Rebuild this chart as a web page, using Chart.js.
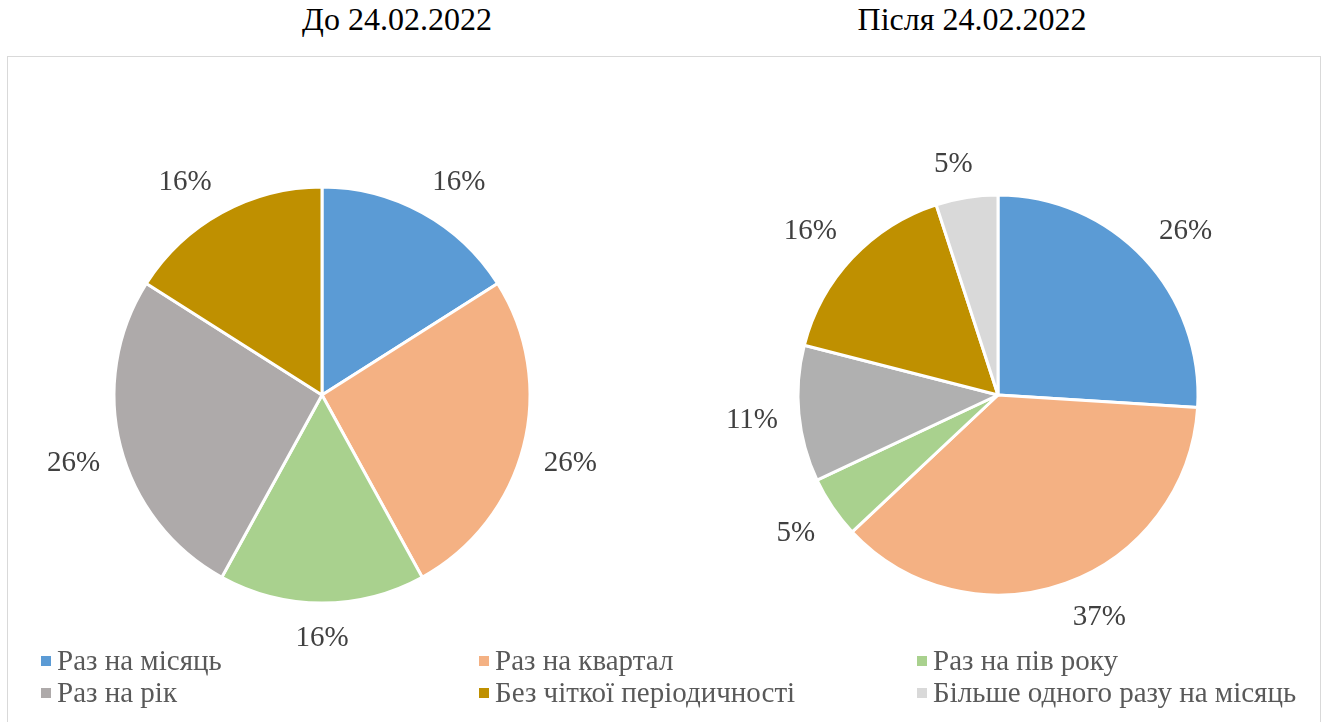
<!DOCTYPE html>
<html>
<head>
    <meta charset="utf-8">
    <title>Періодичність до та після 24.02.2022</title>
    <script src="https://cdn.jsdelivr.net/npm/chart.js"></script>
    <style>
        body {
            margin: 0;
            padding: 0;
            width: 1327px;
            height: 722px;
            overflow: hidden;
            background: #ffffff;
            font-family: 'Liberation Serif', 'Times New Roman', serif;
            position: relative;
        }
        .title {
            position: absolute;
            top: 1px;
            font-family: 'Liberation Serif', serif;
            font-size: 32px;
            color: #000000;
            transform: translateX(-50%);
            white-space: nowrap;
        }
        #frame {
            position: absolute;
            left: 7px;
            top: 56px;
            width: 1312px;
            height: 700px;
            border: 1px solid #d9d9d9;
        }
        canvas {
            position: absolute;
        }
        #legend {
            position: absolute;
            left: 0;
            top: 644px;
            width: 1327px;
            z-index: 5;
        }
        .item {
            position: absolute;
            font-family: 'Liberation Serif', serif;
            font-size: 29px;
            color: #595959;
            white-space: nowrap;
            line-height: 32px;
        }
        .item span.box {
            display: inline-block;
            width: 10px;
            height: 10px;
            margin-right: 6px;
            vertical-align: 4px;
        }
    </style>
</head>
<body>
    <div class="title" style="left:397px">До 24.02.2022</div>
    <div class="title" style="left:972px">Після 24.02.2022</div>
    <div id="frame"></div>
    <canvas id="before" width="644" height="610" style="left:0px;top:90px"></canvas>
    <canvas id="after" width="640" height="610" style="left:678px;top:90px"></canvas>
    <div id="legend"></div>

    <script>
        // категорії та значення (%)
        const categories = ['Раз на місяць', 'Раз на квартал', 'Раз на пів року', 'Раз на рік', 'Без чіткої періодичності', 'Більше одного разу на місяць'];
        const beforeValues = [16, 26, 16, 26, 16, 0];
        const afterValues = [26, 37, 5, 11, 16, 5];

        const beforeColors = ['#5B9BD5', '#F4B183', '#A9D18E', '#AEAAAA', '#BF9000', '#D9D9D9'];
        const afterColors = ['#5B9BD5', '#F4B183', '#A9D18E', '#B0B0B0', '#BF9000', '#D9D9D9'];

        function clamp(v) { return Math.max(-1, Math.min(1, v)); }

        // підписи відсотків зовні сектора (кут підпису біля краю кола)
        const outsideLabels = {
            id: 'outsideLabels',
            afterDatasetsDraw(chart) {
                const ctx = chart.ctx;
                const meta = chart.getDatasetMeta(0);
                const data = chart.data.datasets[0].data;
                ctx.save();
                ctx.font = '29px "Liberation Serif", serif';
                ctx.fillStyle = '#404040';
                ctx.textAlign = 'center';
                ctx.textBaseline = 'middle';
                meta.data.forEach((arc, i) => {
                    if (!data[i]) return;
                    const p = arc.getProps(['x', 'y', 'startAngle', 'endAngle', 'outerRadius'], true);
                    const mid = (p.startAngle + p.endAngle) / 2;
                    const text = data[i] + '%';
                    const w = ctx.measureText(text).width;
                    const h = 26;
                    const cos = Math.cos(mid), sin = Math.sin(mid);
                    const d = p.outerRadius + 21;
                    const x = p.x + cos * d + clamp(cos / 0.3) * w / 2;
                    const y = p.y + sin * d + clamp(sin / 0.3) * h / 2;
                    ctx.fillText(text, x, y + 1);
                });
                ctx.restore();
            }
        };

        function makePie(id, values, colors, radius) {
            return new Chart(document.getElementById(id), {
                type: 'pie',
                data: {
                    labels: categories,
                    datasets: [{
                        data: values,
                        backgroundColor: colors,
                        borderColor: '#ffffff',
                        borderWidth: 3
                    }]
                },
                options: {
                    responsive: false,
                    animation: false,
                    radius: radius,
                    layout: { padding: 0 },
                    plugins: {
                        legend: { display: false },
                        tooltip: { enabled: false }
                    }
                },
                plugins: [outsideLabels]
            });
        }

        makePie('before', beforeValues, beforeColors, 208);
        makePie('after', afterValues, afterColors, 200);

        // легенда: 3 колонки, 2 рядки
        const legendX = [41, 479, 917];
        const legendY = [0, 32];
        const legendColors = ['#5B9BD5', '#F4B183', '#A9D18E', '#AEAAAA', '#BF9000', '#D9D9D9'];
        const legend = document.getElementById('legend');
        categories.forEach((name, i) => {
            const el = document.createElement('div');
            el.className = 'item';
            el.style.left = legendX[i % 3] + 'px';
            el.style.top = legendY[Math.floor(i / 3)] + 'px';
            el.innerHTML = '<span class="box" style="background:' + legendColors[i] + '"></span>' + name;
            legend.appendChild(el);
        });
    </script>
</body>
</html>
